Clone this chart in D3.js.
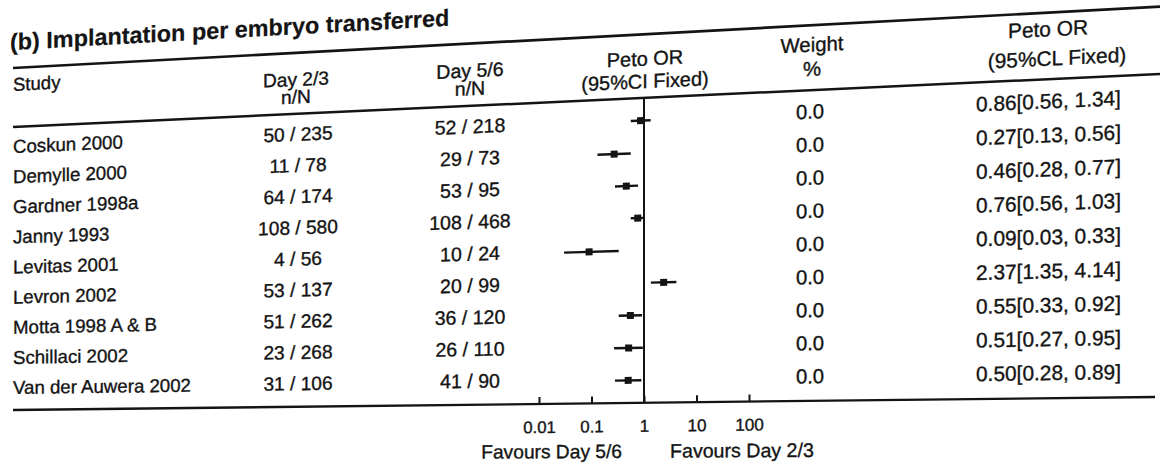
<!DOCTYPE html>
<html><head><meta charset="utf-8">
<script src="https://cdn.jsdelivr.net/npm/d3@7"></script>
<style>
html,body{margin:0;padding:0;background:#fff;}
svg{display:block;}
text{font-family:"Liberation Sans", Arial, Helvetica, sans-serif; fill:#141414; stroke:#141414; stroke-width:0.35px;}
</style></head><body>
<svg id="chart" width="1160" height="464"></svg>
<script>
// ---- data ----
const titleText = "(b) Implantation per embryo transferred";
const studies = ["Coskun 2000","Demylle 2000","Gardner 1998a","Janny 1993","Levitas 2001","Levron 2002","Motta 1998 A & B","Schillaci 2002","Van der Auwera 2002"];
const day23 = ["50 / 235","11 / 78","64 / 174","108 / 580","4 / 56","53 / 137","51 / 262","23 / 268","31 / 106"];
const day56 = ["52 / 218","29 / 73","53 / 95","108 / 468","10 / 24","20 / 99","36 / 120","26 / 110","41 / 90"];
const orValues = [0.86,0.27,0.46,0.76,0.09,2.37,0.55,0.51,0.50];
const ciLower  = [0.56,0.13,0.28,0.56,0.03,1.35,0.33,0.27,0.28];
const ciUpper  = [1.34,0.56,0.77,1.03,0.33,4.14,0.92,0.95,0.89];
const weights  = [0.0,0.0,0.0,0.0,0.0,0.0,0.0,0.0,0.0];
const tickValues = [0.01,0.1,1,10,100];
const tickLabels = ["0.01","0.1","1","10","100"];
const favourLeft = "Favours Day 5/6";
const favourRight = "Favours Day 2/3";

// ---- scanned-page warp (tilt + perspective) ----
const X0 = 13, YB = 410, SB = -0.0114, K = 0.000123;
const slope = yf => SB - K * (YB - yf);
const mag = x => 1 + K * (x - X0);
const W = (x, yf) => [x, yf + slope(yf) * (x - X0)];
const deg = yf => Math.atan(slope(yf)) * 180 / Math.PI;

const svg = d3.select("#chart");
const INK = "#141414";

function txt(str, x, yf, o = {}) {
  const [px, py] = W(x, yf);
  return svg.append("text")
    .attr("transform", `translate(${px},${py}) skewY(${deg(yf)})`)
    .attr("text-anchor", o.anchor || "start")
    .style("font-size", ((o.size || 18.5) * mag(o.cx || x)).toFixed(2) + "px")
    .style("font-weight", o.weight || "normal")
    .text(str);
}
function hline(yf, x1, x2, w) {
  const a = W(x1, yf), b = W(x2, yf);
  svg.append("line").attr("x1", a[0]).attr("y1", a[1]).attr("x2", b[0]).attr("y2", b[1])
    .attr("stroke", INK).attr("stroke-width", w);
}

// ---- scales ----
const x = d3.scaleLog().domain([0.01, 100]).range([539, 749]);
const row = d3.scaleLinear().domain([0, studies.length - 1]).range([153, 394]);

// title
txt(titleText, 10, 50, {size: 22.8, weight: "bold", cx: 228}).style("stroke-width", "0.2px");

// rules
hline(68, 13, 1160, 2.7);
hline(127, 13, 1160, 2.5);
hline(YB, 13, 1155, 2.3);

// headers
txt("Study", 13, 91, {cx: 36});
txt("Day 2/3", 296, 100, {anchor: "middle"});
txt("n/N", 296, 117, {anchor: "middle"});
txt("Day 5/6", 470, 100, {anchor: "middle"});
txt("n/N", 470, 117, {anchor: "middle"});
txt("Peto OR", 645, 97, {anchor: "middle"});
txt("(95%CI Fixed)", 645, 118, {anchor: "middle"});
txt("Weight", 812, 92, {anchor: "middle"});
txt("%", 812, 114, {anchor: "middle"});
txt("Peto OR", 1048, 89, {anchor: "middle"});
txt("(95%CL Fixed)", 1057, 115, {anchor: "middle"});

// line of no effect
{
  const a = W(x(1), 127), b = W(x(1), YB);
  svg.append("line").attr("x1", a[0]).attr("y1", a[1]).attr("x2", b[0]).attr("y2", b[1])
    .attr("stroke", INK).attr("stroke-width", 2);
}

// rows
studies.forEach((s, i) => {
  const yf = row(i);
  txt(s, 13, yf, {cx: 80});
  txt(day23[i], 298, yf, {anchor: "middle"});
  txt(day56[i], 470, yf, {anchor: "middle"});
  txt(weights[i].toFixed(1), 810, yf, {anchor: "middle"});
  txt(`${orValues[i].toFixed(2)}[${ciLower[i].toFixed(2)}, ${ciUpper[i].toFixed(2)}]`, 976, yf, {cx: 1050});
  const yc = yf - 5;
  const a = W(x(ciLower[i]), yc), b = W(x(ciUpper[i]), yc);
  svg.append("line").attr("x1", a[0]).attr("y1", a[1]).attr("x2", b[0]).attr("y2", b[1])
    .attr("stroke", INK).attr("stroke-width", 2.4);
  const p = W(x(orValues[i]), yc);
  svg.append("rect").attr("x", -3.5).attr("y", -3.5).attr("width", 7).attr("height", 7)
    .attr("transform", `translate(${p[0]},${p[1]}) skewY(${deg(yc)})`)
    .attr("fill", INK);
});

// axis
const axisG = svg.append("g")
  .attr("transform", `matrix(1,${SB},0,1,0,${YB - SB * X0})`)
  .call(d3.axisBottom(x).tickValues(tickValues).tickFormat((d, i) => tickLabels[i])
    .tickSize(-7).tickSizeOuter(0).tickPadding(0));
axisG.attr("font-family", null).attr("font-size", null);
axisG.select(".domain").remove();
axisG.selectAll(".tick line").attr("stroke", INK).attr("stroke-width", 2);
axisG.selectAll(".tick text").attr("dy", null).attr("y", 29)
  .style("font-size", d => (15.8 * mag(x(d))).toFixed(2) + "px");

txt(favourLeft, 622, 461, {anchor: "end", size: 18, cx: 552});
txt(favourRight, 670, 461, {anchor: "start", size: 18, cx: 742});
</script>
</body></html>
